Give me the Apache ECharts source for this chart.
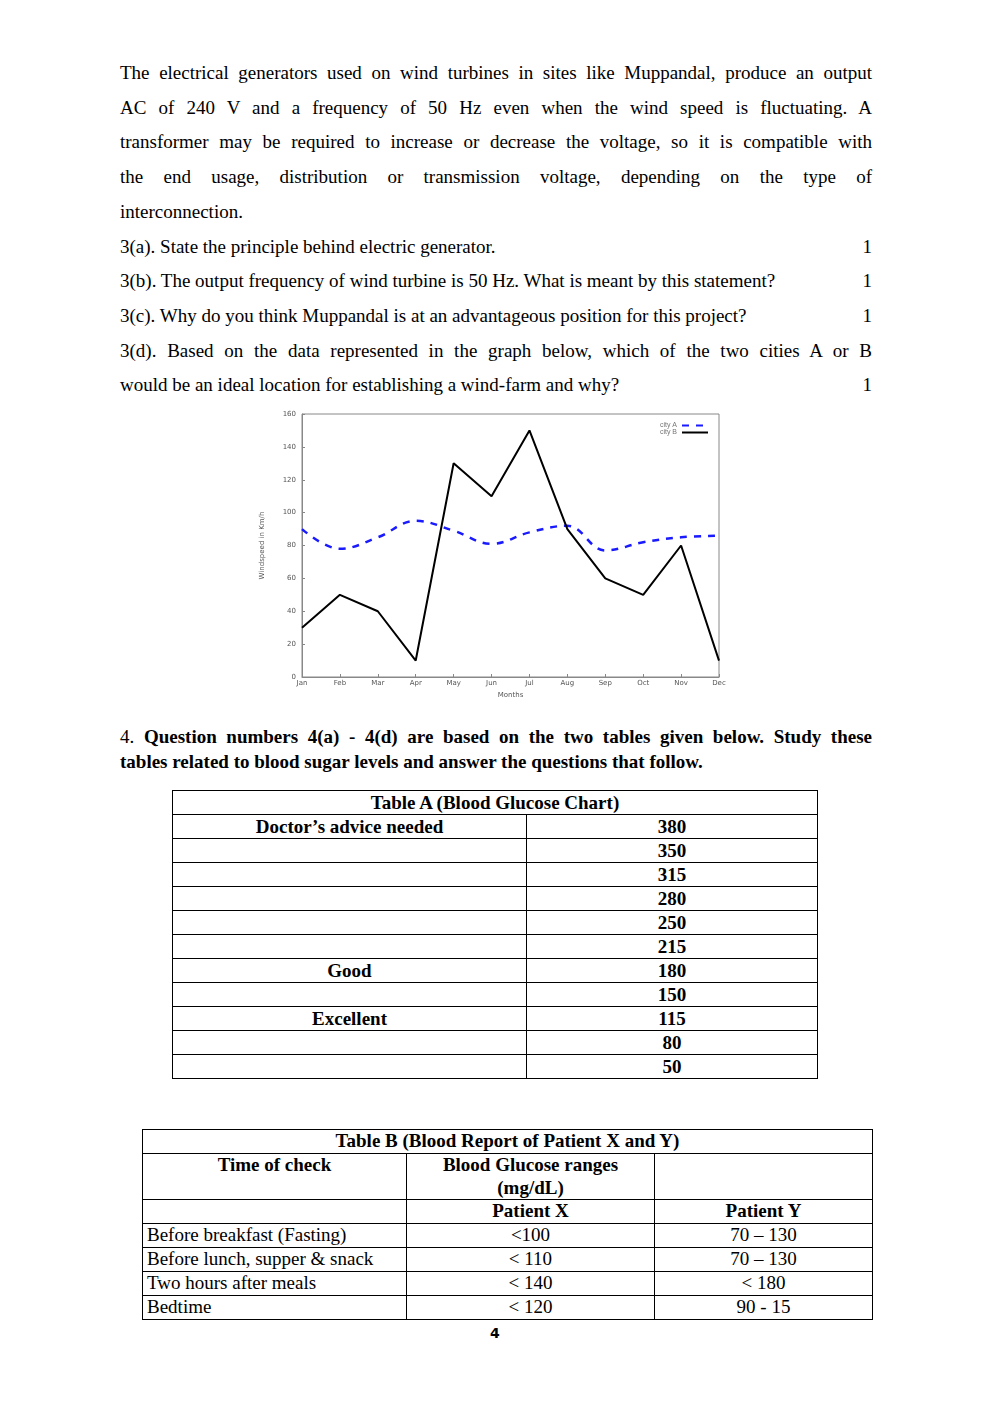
<!DOCTYPE html>
<html>
<head>
<meta charset="UTF-8">
<script src="https://cdn.jsdelivr.net/npm/echarts@6/dist/echarts.min.js"></script>
<style>
  body { margin: 0; width: 992px; height: 1403px; position: relative; background: #fff;
         font-family: "Liberation Serif", serif; color: #000; }
  .blk { position: absolute; left: 120px; width: 752px; font-size: 19px; }
  .para { top: 56px; line-height: 34.7px; }
  .j { text-align: justify; text-align-last: justify; white-space: nowrap; }
  .q { display: flex; justify-content: space-between; }
  #chart { position: absolute; left: 250px; top: 405px; width: 490px; height: 300px; }
  table { position: absolute; border-collapse: collapse; font-size: 19px; }
  td { border: 1px solid #000; padding: 0 4px; text-align: center; line-height: 23px; height: 23px; }
  #ta { left: 172px; top: 790px; width: 646px; font-weight: bold; }
  #tb { left: 142px; top: 1129px; width: 731px; }
  #tb td { line-height: 22.5px; }
  .l { text-align: left; }
  .pg { position: absolute; top: 1325px; left: 490px; font: bold 14px "DejaVu Sans", sans-serif; }
</style>
</head>
<body>
<div class="blk para">
<div class="j">The electrical generators used on wind turbines in sites like Muppandal, produce an output</div>
<div class="j">AC of 240 V and a frequency of 50 Hz even when the wind speed is fluctuating. A</div>
<div class="j">transformer may be required to increase or decrease the voltage, so it is compatible with</div>
<div class="j">the end usage, distribution or transmission voltage, depending on the type of</div>
<div>interconnection.</div>
<div class="q"><span>3(a). State the principle behind electric generator.</span><span>1</span></div>
<div class="q"><span>3(b). The output frequency of wind turbine is 50 Hz. What is meant by this statement?</span><span>1</span></div>
<div class="q"><span>3(c). Why do you think Muppandal is at an advantageous position for this project?</span><span>1</span></div>
<div class="j">3(d). Based on the data represented in the graph below, which of the two cities A or B</div>
<div class="q"><span>would be an ideal location for establishing a wind-farm and why?</span><span>1</span></div>
</div>
<div id="chart"></div>
<div class="blk" style="top:724px;line-height:25px;">
<div class="j">4. <b>Question numbers 4(a) - 4(d) are based on the two tables given below. Study these</b></div>
<div><b>tables related to blood sugar levels and answer the questions that follow.</b></div>
</div>
<table id="ta"></table>
<table id="tb">
<tr><td colspan="3"><b>Table B (Blood Report of Patient X and Y)</b></td></tr>
<tr><td style="vertical-align:top;height:44px"><b>Time of check</b></td><td><b>Blood Glucose ranges<br>(mg/dL)</b></td><td></td></tr>
<tr><td></td><td><b>Patient X</b></td><td><b>Patient Y</b></td></tr>
</table>
<div class="pg">4</div>
<script>
const months = ['Jan','Feb','Mar','Apr','May','Jun','Jul','Aug','Sep','Oct','Nov','Dec'];
const cityA = [90, 78, 85, 95, 89, 81, 88, 92, 77, 82, 85, 86];
const cityB = [30, 50, 40, 10, 130, 110, 150, 90, 60, 50, 80, 10];

const tableALabels = ["Doctor’s advice needed", '', '', '', '', '', 'Good', '', 'Excellent', '', ''];
const tableAValues = [380, 350, 315, 280, 250, 215, 180, 150, 115, 80, 50];

const checkTimes = ['Before breakfast (Fasting)', 'Before lunch, supper & snack', 'Two hours after meals', 'Bedtime'];
const patientX = ['<100', '< 110', '< 140', '< 120'];
const patientY = ['70 – 130', '70 – 130', '< 180', '90 - 15'];

// Table A
let ta = '<tr><td colspan="2">Table A (Blood Glucose Chart)</td></tr>';
tableALabels.forEach((l, i) => {
  ta += '<tr><td style="width:345px">' + l + '</td><td>' + tableAValues[i] + '</td></tr>';
});
document.getElementById('ta').innerHTML = ta;

// Table B
const tb = document.getElementById('tb');
const esc = s => s.replace(/&/g, '&amp;').replace(/</g, '&lt;');
checkTimes.forEach((t, i) => {
  tb.insertAdjacentHTML('beforeend', '<tr><td class="l" style="width:255px">' + esc(t) + '</td><td style="width:239px">' +
    esc(patientX[i]) + '</td><td>' + esc(patientY[i]) + '</td></tr>');
});

const chart = echarts.init(document.getElementById('chart'));
const tickLbl = { fontSize: 7, color: '#555', fontFamily: 'DejaVu Sans' };
chart.setOption({
  animation: false,
  grid: { left: 52, top: 9, width: 417, height: 263, show: true, borderColor: '#888', borderWidth: 1 },
  legend: {
    right: 26, top: 12, orient: 'vertical', align: 'right', itemGap: 0, itemWidth: 26, itemHeight: 6,
    textStyle: { fontSize: 7, color: '#777' },
    itemStyle: { opacity: 0 },
    data: ['city A', 'city B']
  },
  xAxis: {
    type: 'category', data: months, boundaryGap: false,
    name: 'Months', nameLocation: 'middle', nameGap: 13, nameTextStyle: tickLbl,
    axisLine: { lineStyle: { color: '#888' } },
    axisTick: { inside: true, length: 3, lineStyle: { color: '#888' } },
    axisLabel: Object.assign({ margin: 3 }, tickLbl),
    splitLine: { show: false }
  },
  yAxis: {
    type: 'value', min: 0, max: 160, interval: 20,
    name: 'Windspeed in Km/h', nameLocation: 'middle', nameGap: 36, nameTextStyle: tickLbl,
    axisLine: { show: true, lineStyle: { color: '#888' } },
    axisTick: { show: true, inside: true, length: 3, lineStyle: { color: '#888' } },
    axisLabel: Object.assign({ margin: 6 }, tickLbl),
    splitLine: { show: false }
  },
  series: [
    { name: 'city A', type: 'line', data: cityA, symbol: 'none', smooth: 0.4,
      lineStyle: { color: '#1a1aff', width: 2.5, type: [7, 7] }, itemStyle: { color: '#1a1aff' } },
    { name: 'city B', type: 'line', data: cityB, symbol: 'none',
      lineStyle: { color: '#000', width: 2 }, itemStyle: { color: '#000' } }
  ]
});
</script>
</body>
</html>
